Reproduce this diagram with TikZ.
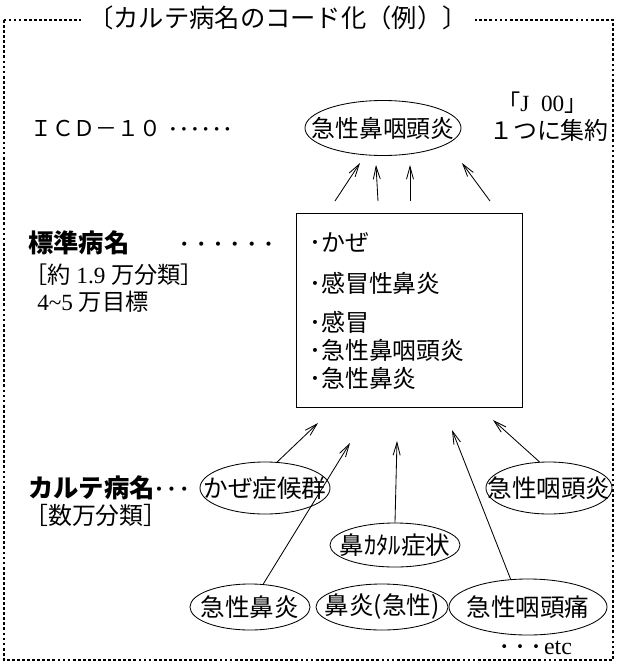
\documentclass[tikz,border=0pt]{standalone}
\usepackage{fontspec}
\setmainfont{Liberation Serif}
\newfontfamily\jp{Noto Sans CJK JP}
\usetikzlibrary{shapes.geometric,arrows.meta}

\begin{document}
\begin{tikzpicture}[x=0.025cm,y=-0.025cm]
    \tikzset{oval/.style={draw,semithick,ellipse,inner xsep=-30pt,inner ysep=0pt,minimum height=1.3cm,font=\jp\fontsize{17.5}{18}\selectfont}}
    \tikzset{txt/.style={anchor=west,inner sep=0pt,font=\jp\fontsize{17}{18}\selectfont}}
    \tikzset{vec/.style={draw,semithick,-{Straight Barb[length=9pt,width=5pt]}}}

    \useasboundingbox (0,0) rectangle (618,667);
    \draw[line width=1.6pt,dash pattern=on 2pt off 1.6pt] (4,20) rectangle (613,660);
    \node[fill=white,inner xsep=5pt,font=\jp\fontsize{18}{20}\selectfont] (title) at (278,18) {〔カルテ病名のコード化（例）〕};

    % ICD-10
    \node[txt,font=\jp\fontsize{15.5}{16}\selectfont] (icd) at (30,128) {ＩＣＤ－１０\hspace{6pt}{\rmfamily\bfseries ·\,·\,·\,·\,·\,·}};
    \node[oval,minimum width=3.9cm,minimum height=1.375cm,font=\jp\fontsize{17}{18}\selectfont] (top) at (383,128) {急性鼻咽頭炎};
    \node[txt,font=\fontsize{16.5}{18}\selectfont] (code) at (497,103) {{\jp 「}J\ \ 00{\jp 」}};
    \node[txt,anchor=east] (one) at (609,130) {１つに集約};

    % standard names
    \node[txt,font=\jp\bfseries\fontsize{18}{18}\selectfont] (std) at (28,243) {標準病名\hspace{36pt}{\rmfamily ·\,\,·\,\,·\,\,·\,\,·\,\,·}};
    \node[txt,font=\fontsize{16.5}{18}\selectfont] (std2) at (24,275) {{\jp ［約} 1.9 {\jp 万分類］}};
    \node[txt,font=\fontsize{16.5}{18}\selectfont] (std3) at (37,302) {4\textasciitilde 5 {\jp 万目標}};

    \node[draw,semithick,minimum width=5.65cm,minimum height=4.85cm] (box) at (409,310) {};
    \foreach \y/\t [count=\i] in {242/かぜ,283/感冒性鼻炎,322/感冒,350/急性鼻咽頭炎,378/急性鼻炎}
        \node[txt] (item\i) at (309,\y) {･\t};

    % chart names
    \node[txt,font=\jp\bfseries\fontsize{18}{18}\selectfont] (karte) at (28,488) {カルテ病名{\rmfamily ·\,·\,·}};
    \node[txt] (karte2) at (24,515) {［数万分類］};

    \node[oval,minimum width=3.25cm] (kaze) at (265,488) {かぜ症候群};
    \node[oval,minimum width=3.15cm] (into) at (549,488) {急性咽頭炎};
    \node[oval,minimum width=3.25cm,minimum height=1.1cm] (kataru) at (395,545) {鼻ｶﾀﾙ症状};
    \node[oval,minimum width=3.0cm,minimum height=1.15cm] (bien) at (250,607) {急性鼻炎};
    \node[oval,minimum width=3.3cm,minimum height=1.15cm] (bien2) at (382,607) {鼻炎(急性)};
    \node[oval,minimum width=3.95cm,minimum height=1.4cm] (intotsu) at (528,607) {急性咽頭痛};
    \node[txt,font=\fontsize{17}{18}\selectfont] (etc) at (500,648) {{\bfseries ·\,\,·\,\,·}\,etc};

    % arrow ends
    \coordinate (a1) at (335,201); \coordinate (b1) at (360,163);
    \coordinate (a2) at (378,201); \coordinate (b2) at (376,165);
    \coordinate (a3) at (410,201); \coordinate (b3) at (410,165);
    \coordinate (a4) at (490,201); \coordinate (b4) at (462,163);
    \foreach \i in {1,...,4}
        \draw[vec] (a\i) -- (b\i);

    \coordinate (c1) at (318,423);
    \coordinate (c2) at (350,443);
    \coordinate (c3) at (397,441);
    \coordinate (c4) at (452,430);
    \coordinate (c5) at (493,420);
    \draw[vec] (kaze.65) -- (c1);
    \draw[vec] (bien.60) -- (c2);
    \draw[vec] (kataru.north) -- (c3);
    \draw[vec] (intotsu.122) -- (c4);
    \draw[vec] (into.110) -- (c5);
\end{tikzpicture}
\end{document}
